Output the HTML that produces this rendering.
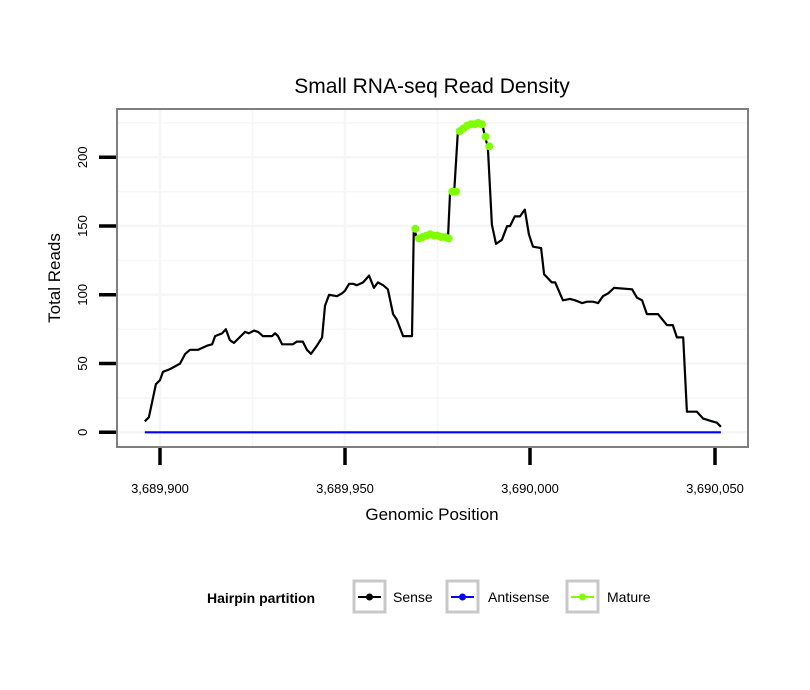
<!DOCTYPE html>
<html><head><meta charset="utf-8"><style>
body{margin:0;background:#fff;}
svg{display:block;font-family:"Liberation Sans",Arial,sans-serif;}
</style></head><body>
<svg id="chart" width="810" height="690" viewBox="0 0 810 690">
<rect x="0" y="0" width="810" height="690" fill="#fff"/>
<text x="432" y="93" font-size="21" text-anchor="middle">Small RNA-seq Read Density</text>
<rect x="117" y="109" width="631" height="338" fill="#fff"/>
<g id="grid"></g>
<g id="series"></g>
<rect x="117" y="109" width="631" height="338" fill="none" stroke="#7f7f7f" stroke-width="2"/>
<g id="axes"></g>
<text x="432" y="520" font-size="17" text-anchor="middle">Genomic Position</text>
<text transform="translate(60,278) rotate(-90)" font-size="17" text-anchor="middle">Total Reads</text>
<g>
<text x="207" y="603" font-size="14" font-weight="bold">Hairpin partition</text>
<g>
<rect x="354" y="581" width="31" height="31" fill="#fff" stroke="#c8c8c8" stroke-width="3"/>
<line x1="358" y1="597" x2="381" y2="597" stroke="#000" stroke-width="2"/><circle cx="369.5" cy="597" r="3.5" fill="#000"/>
<text x="393" y="602" font-size="14">Sense</text></g>
<g>
<rect x="447" y="581" width="31" height="31" fill="#fff" stroke="#c8c8c8" stroke-width="3"/>
<line x1="451" y1="597" x2="474" y2="597" stroke="#0000ff" stroke-width="2"/><circle cx="462.5" cy="597" r="3.5" fill="#0000ff"/>
<text x="488" y="602" font-size="14">Antisense</text></g>
<g>
<rect x="567" y="581" width="31" height="31" fill="#fff" stroke="#c8c8c8" stroke-width="3"/>
<line x1="571" y1="597" x2="594" y2="597" stroke="#7fff00" stroke-width="2"/><circle cx="582.5" cy="597" r="3.5" fill="#7fff00"/>
<text x="607" y="602" font-size="14">Mature</text></g>
</g>
</svg>
<script>
const base = 3689900;
const senseOffsets = [-4.1,-3,-1.1,0,0.8,2.7,5.4,6.8,8.1,10.3,12.7,14.1,14.9,16.8,17.8,18.9,20,23,24,25.4,26.5,27.8,30.3,31.1,31.9,33,35.9,37,38.6,39.7,40.8,42.4,43.8,44.6,45.7,47.8,49.2,50,51.1,52.2,53.2,54.9,56.5,57.8,58.9,60.3,61.6,63,64,65.7,68.1,68.6,69.5,72.2,74.9,77.8,78.4,79.5,80.5,81.9,83.8,85.9,87.3,87.8,88.6,89.7,90.8,92.4,93.8,94.6,95.9,97.3,98.6,99.7,100.8,103,103.8,105.9,106.8,108.9,110.8,112.2,114.1,115.4,117,118.4,119.7,121.1,122.7,127.6,128.9,130.3,131.6,134.6,137,138.6,139.7,141.4,142.4,145.1,146.8,149.2,150.5,151.6];
const senseValues = [8,11,35,38,44,46,50,57,60,60,63,64,70,72,75,67,65,73,72,74,73,70,70,72,70,64,64,66,66,60,57,63,69,92,100,99,101,103,108,108,107,109,114,105,109,107,104,86,82,70,70,148,141,143,143,140,175,175,219,222,224,224,222,215,208,151,137,140,150,150,157,157,162,144,135,134,115,109,109,96,97,96,94,95,95,94,99,101,105,104,98,96,86,86,78,78,69,69,15,15,10,8,7,4];
const antisenseOffsets = [-4.1,151.6];
const antisenseValues = [0,0];
const matureOffsets = [69,70,71,72,73,74,75,76,77,78,79,80,81,82,83,84,85,86,87,88,89];
const matureValues = [148,141,142,143,144,143,143,142,142,141,175,175,219,221,223,224,224,225,224,215,208];
const xTicks = [3689900,3689950,3690000,3690050];
const xTickLabels = ["3,689,900","3,689,950","3,690,000","3,690,050"];
const yTicks = [0,50,100,150,200];
const yTickLabels = ["0","50","100","150","200"];

const NS = "http://www.w3.org/2000/svg";
function xs(p){ return 160 + (p - base) * 3.7; }
function ys(v){ return 432.3 - v * 1.375; }
function mk(tag, attrs, parent){ const e = document.createElementNS(NS, tag); for (const k in attrs) e.setAttribute(k, attrs[k]); parent.appendChild(e); return e; }
const grid = document.getElementById('grid'), series = document.getElementById('series'), axes = document.getElementById('axes');

for (let v = -25; v <= 250; v += 25) {
  const y = ys(v); if (y < 110 || y > 446) continue;
  const l = mk('line', {x1:118, x2:747, y1:y, y2:y, stroke:'#f6f6f6', 'stroke-width': v % 50 === 0 ? 2.5 : 1.5}, grid);
  
  
}
for (let p = base - 25; p <= base + 75; p += 25) {
  const x = xs(p); if (x < 118 || x > 747) continue;
  const l = mk('line', {x1:x, x2:x, y1:110, y2:446, stroke:'#f6f6f6', 'stroke-width': (p - base) % 50 === 0 ? 2.5 : 1.5}, grid);
  
  
}

function pathOf(offs, vals){ return offs.map((o,i)=>(i?'L':'M')+xs(base+o).toFixed(1)+','+ys(vals[i]).toFixed(1)).join(''); }
const sense = mk('path', {d: pathOf(senseOffsets, senseValues), fill:'none', stroke:'#000', 'stroke-width':2.2, 'stroke-linejoin':'round'}, series);


const anti = mk('path', {d: pathOf(antisenseOffsets, antisenseValues), fill:'none', stroke:'#0000ff', 'stroke-width':2.2}, series);


matureOffsets.forEach((o,i)=>{
  const c = mk('circle', {cx: xs(base+o), cy: ys(matureValues[i]), r: 4, fill:'#7fff00'}, series);
  
  
});

yTicks.forEach((v,i)=>{
  const y = ys(v);
  const t = mk('line', {x1:99, x2:116, y1:y, y2:y, stroke:'#000', 'stroke-width':3.5}, axes);
  
  
  const tx = mk('text', {transform:`translate(87,${y}) rotate(-90)`, 'font-size':13, 'text-anchor':'middle'}, axes);
  tx.textContent = yTickLabels[i];
  
  
});
xTicks.forEach((p,i)=>{
  const x = xs(p);
  const t = mk('line', {x1:x, x2:x, y1:448, y2:465, stroke:'#000', 'stroke-width':3.5}, axes);
  
  
  const tx = mk('text', {x:x, y:493, 'font-size':13, 'text-anchor':'middle'}, axes);
  tx.textContent = xTickLabels[i];
  
  
});
</script>
</body></html>
